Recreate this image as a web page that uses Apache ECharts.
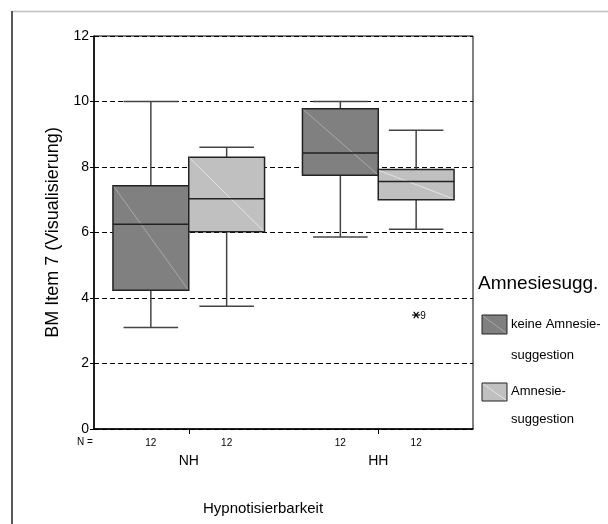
<!DOCTYPE html>
<html><head><meta charset="utf-8">
<script src="https://cdn.jsdelivr.net/npm/echarts@6/dist/echarts.min.js"></script>
<style>html,body{margin:0;padding:0;background:#fff}#c{width:608px;height:524px}</style>
</head><body><div id="c"></div>
<script>
var categories = ['NH', 'HH'];
var yTicks = [0, 2, 4, 6, 8, 10, 12];
// keine Amnesiesuggestion
var keineMin = [3.10, 5.86];
var keineQ1 = [4.24, 7.75];
var keineMed = [6.25, 8.43];
var keineQ3 = [7.43, 9.78];
var keineMax = [10.0, 10.0];
// Amnesiesuggestion
var amnMin = [3.75, 6.10];
var amnQ1 = [6.02, 7.00];
var amnMed = [7.03, 7.56];
var amnQ3 = [8.30, 7.92];
var amnMax = [8.60, 9.12];
// outliers (Amnesiesuggestion, HH)
var outlierCat = [1];
var outlierVal = [3.48];
var outlierLbl = ['9'];
var nKeine = [12, 12];
var nAmn = [12, 12];

var FONT = 'Liberation Sans, Arial, sans-serif';

function buildBox(mins, q1s, meds, q3s, maxs, ns) {
  return categories.map(function (c, i) { return [i, mins[i], q1s[i], meds[i], q3s[i], maxs[i], ns[i]]; });
}

function boxRender(offset, fill, diag) {
  return function (params, api) {
    var ci = api.value(0);
    var base = api.coord([ci, 0]);
    var band = api.size([1, 0])[0];
    var w = band * 0.4;
    var cx = base[0] + offset * band;
    var x0 = cx - w / 2, x1 = cx + w / 2;
    var yMin = api.coord([ci, api.value(1)])[1];
    var yQ1 = api.coord([ci, api.value(2)])[1];
    var yMed = api.coord([ci, api.value(3)])[1];
    var yQ3 = api.coord([ci, api.value(4)])[1];
    var yMax = api.coord([ci, api.value(5)])[1];
    var cw = w * 0.36;
    var wl = {stroke: '#444', lineWidth: 1.5};
    var bl = {stroke: '#222', lineWidth: 1.5};
    return {
      type: 'group',
      children: [
        {type: 'line', shape: {x1: cx, y1: yMax, x2: cx, y2: yQ3}, style: wl},
        {type: 'line', shape: {x1: cx, y1: yQ1, x2: cx, y2: yMin}, style: wl},
        {type: 'line', shape: {x1: cx - cw, y1: yMax, x2: cx + cw, y2: yMax}, style: wl},
        {type: 'line', shape: {x1: cx - cw, y1: yMin, x2: cx + cw, y2: yMin}, style: wl},
        {type: 'rect', shape: {x: x0, y: yQ3, width: w, height: yQ1 - yQ3}, style: {fill: fill, stroke: '#222', lineWidth: 1.5}},
        {type: 'line', shape: {x1: x0 + 1, y1: yQ3 + 1, x2: x1 - 1, y2: yQ1 - 1}, style: {stroke: diag, lineWidth: 1}},
        {type: 'line', shape: {x1: x0, y1: yMed, x2: x1, y2: yMed}, style: bl},
        {type: 'text', x: cx, y: base[1] + 14, style: {text: String(api.value(6)), font: '10px ' + FONT, fill: '#000', align: 'center', verticalAlign: 'middle'}}
      ]
    };
  };
}

function outlierRender(offset) {
  return function (params, api) {
    var ci = api.value(0);
    var p = api.coord([ci, api.value(1)]);
    var band = api.size([1, 0])[0];
    var cx = p[0] + offset * band;
    var y = p[1];
    var r = 4;
    var st = {stroke: '#000', lineWidth: 1.2};
    return {
      type: 'group',
      children: [
        {type: 'line', shape: {x1: cx - r, y1: y, x2: cx + r, y2: y}, style: st},
        {type: 'line', shape: {x1: cx - r * 0.6, y1: y - r * 0.8, x2: cx + r * 0.6, y2: y + r * 0.8}, style: st},
        {type: 'line', shape: {x1: cx + r * 0.6, y1: y - r * 0.8, x2: cx - r * 0.6, y2: y + r * 0.8}, style: st},
        {type: 'text', x: cx + 4, y: y + 1, style: {text: outlierLbl[params.dataIndex], font: '10px ' + FONT, fill: '#000', align: 'left', verticalAlign: 'middle'}}
      ]
    };
  };
}

var chart = echarts.init(document.getElementById('c'), null, {renderer: 'canvas'});
chart.setOption({
  animation: false,
  backgroundColor: '#fff',
  grid: {left: 94, right: 135, top: 36, bottom: 95, show: true, borderColor: '#000', borderWidth: 1, backgroundColor: 'transparent'},
  xAxis: {
    type: 'category', data: categories, boundaryGap: true,
    axisLine: {lineStyle: {color: '#000', width: 1.5}},
    axisTick: {show: true, alignWithLabel: true, length: 5, lineStyle: {color: '#000'}},
    axisLabel: {color: '#000', fontSize: 14, fontFamily: FONT, margin: 25},
    splitLine: {show: false}
  },
  yAxis: {
    type: 'value', min: 0, max: 12, interval: 2,
    name: 'BM Item 7 (Visualisierung)', nameLocation: 'middle', nameGap: 32, nameRotate: 90,
    nameTextStyle: {color: '#000', fontSize: 18, fontFamily: FONT},
    axisLine: {show: true, lineStyle: {color: '#000', width: 1.5}},
    axisTick: {show: true, length: 4, lineStyle: {color: '#000'}},
    axisLabel: {color: '#000', fontSize: 14, fontFamily: FONT, margin: 5,
      formatter: function (v) { return yTicks.indexOf(v) >= 0 ? String(v) : ''; }},
    splitLine: {show: true, lineStyle: {color: '#000', width: 1, type: [5, 3]}}
  },
  series: [
    {name: 'keine Amnesiesuggestion', type: 'custom', renderItem: boxRender(-0.2, '#808080', '#a8a8a8'),
      data: buildBox(keineMin, keineQ1, keineMed, keineQ3, keineMax, nKeine), z: 3},
    {name: 'Amnesiesuggestion', type: 'custom', renderItem: boxRender(0.2, '#c0c0c0', '#e4e4e4'),
      data: buildBox(amnMin, amnQ1, amnMed, amnQ3, amnMax, nAmn), z: 3},
    {name: 'Ausreißer', type: 'custom', renderItem: outlierRender(0.2),
      data: outlierCat.map(function (c, i) { return [c, outlierVal[i]]; }), z: 4}
  ],
  graphic: [
    {type: 'line', shape: {x1: 12, y1: 11.5, x2: 608, y2: 11.5}, style: {stroke: '#c0c0c0', lineWidth: 1.5}},
    {type: 'line', shape: {x1: 12, y1: 11, x2: 12, y2: 524}, style: {stroke: '#222', lineWidth: 1.5}},
    {type: 'text', left: 77, top: 437, style: {text: 'N =', font: '10px ' + FONT, fill: '#000'}},
    {type: 'text', left: 203, top: 501, style: {text: 'Hypnotisierbarkeit', font: '15px ' + FONT, fill: '#000'}},
    {type: 'text', left: 478, top: 274, style: {text: 'Amnesiesugg.', font: '19px ' + FONT, fill: '#000'}},
    {type: 'rect', shape: {x: 482, y: 315, width: 25, height: 19}, style: {fill: '#808080', stroke: '#222', lineWidth: 1}},
    {type: 'line', shape: {x1: 483, y1: 316, x2: 506, y2: 333}, style: {stroke: '#a8a8a8', lineWidth: 1}},
    {type: 'text', left: 511, top: 318, style: {text: 'keine Amnesie-', font: '13px ' + FONT, fill: '#000'}},
    {type: 'text', left: 511, top: 349, style: {text: 'suggestion', font: '13px ' + FONT, fill: '#000'}},
    {type: 'rect', shape: {x: 482, y: 383, width: 25, height: 18}, style: {fill: '#c0c0c0', stroke: '#222', lineWidth: 1}},
    {type: 'line', shape: {x1: 483, y1: 384, x2: 506, y2: 400}, style: {stroke: '#e4e4e4', lineWidth: 1}},
    {type: 'text', left: 511, top: 385, style: {text: 'Amnesie-', font: '13px ' + FONT, fill: '#000'}},
    {type: 'text', left: 511, top: 413, style: {text: 'suggestion', font: '13px ' + FONT, fill: '#000'}}
  ]
});
</script></body></html>
